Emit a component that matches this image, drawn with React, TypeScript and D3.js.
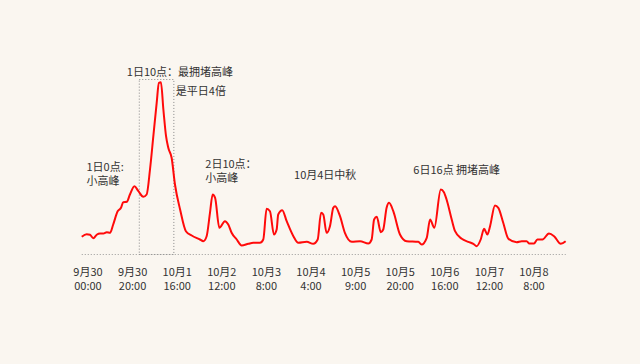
import React, { useEffect, useRef } from "react";
import * as d3 from "d3";

// hours since 9/30 00:00
const hours = [
  -2.8, -0.6, 0.9, 2.4, 3.9, 5.4, 6.9, 8.4, 9.9, 11.3, 13.3, 14.8, 15.8, 17.4, 18.8, 20.8, 22.6, 24.8, 26.3,
  27.8, 29.3, 30.8, 31.8, 32.7, 33.8, 35, 36, 37.5, 39, 41.3, 43.9, 46.5, 50.2, 51.7, 53.2, 54.7, 55.9, 57,
  58.9, 61.4, 62.9, 64.4, 66.7, 68.9, 71.9, 74.1, 77.1, 78.6, 80.1, 81.6, 83.4, 84.6, 85.3, 87.1, 89.1, 92.1,
  94.3, 98.1, 101, 103, 104.5, 105.5, 107, 108.5, 110, 110.8, 113, 115.2, 118.3, 122, 125.7, 127.2, 128.3,
  129.5, 131.3, 132.4, 133.9, 135, 136.9, 139.9, 142.9, 148.1, 149.6, 151.9, 153.4, 155.3, 158.2, 159.6,
  160.8, 163.1, 164.6, 167.6, 170.5, 172.8, 174.3, 176.1, 177.6, 179.1, 180.3, 182.5, 184, 186.2, 188.5,
  192.2, 194.5, 196.7, 197.9, 200, 201.5, 203.8, 206.7, 209, 212, 214.2,
];
// congestion index (relative)
const values = [
  17.7, 20.3, 19.7, 16.3, 19.7, 21, 21, 22.3, 21.7, 30, 43.3, 46.7, 52.3, 52.7, 60, 68.3, 63.3, 57.7, 60,
  85, 118.3, 151.7, 171.7, 172.3, 145, 118.3, 106.7, 96.7, 70, 45, 23.3, 19, 15, 13.3, 18.3, 41.7, 60, 56.7,
  26.7, 33.3, 30, 21.7, 15, 9, 10.7, 11.7, 11.7, 15, 45.7, 43.3, 20, 25, 40, 44.3, 33.3, 18.3,
  11.7, 12.7, 10.7, 15, 41.7, 40, 21.7, 28.3, 46.7, 48.3, 38.3, 21.7, 12.7, 13.3, 11, 15, 35,
  37.7, 22.3, 25, 46.7, 51.7, 43.3, 20, 13.3, 12.7, 10, 16.7, 35, 26.7, 65, 62.3,
  55, 35, 23.3, 15.7, 12.7, 10.7, 8.3, 15, 25.7, 20, 28.3, 49, 46.7, 31.7, 15.7,
  12.3, 13.3, 13.3, 11, 11, 15, 15, 21, 18.3, 10.7, 13.3,
];

const tickHours = [0, 20, 40, 60, 80, 100, 120, 140, 160, 180, 200];
const tickDays = ["9月30", "9月30", "10月1", "10月2", "10月3", "10月4", "10月5", "10月5", "10月6", "10月7", "10月8"];
const tickTimes = ["00:00", "20:00", "16:00", "12:00", "8:00", "4:00", "9:00", "20:00", "16:00", "12:00", "8:00"];

const peakBox = [23, 38.5];

const notes = [
  { h: -0.7, v: 83.5, lines: ["1日0点:", "小高峰"] },
  { h: 17.4, v: 178.5, lines: ["1日10点：最拥堵高峰"] },
  { h: 39.4, v: 159.5, lines: ["是平日4倍"] },
  { h: 52.6, v: 87, lines: ["2日10点：", "小高峰"] },
  { h: 92.4, v: 75.5, lines: ["10月4日中秋"] },
  { h: 145.9, v: 81, lines: ["6日16点 拥堵高峰"] },
];

export default function App() {
  const svgRef = useRef<SVGSVGElement>(null);

  useEffect(() => {
    document.body.style.margin = "0";
    const width = 640;
    const height = 364;
    const svg = d3.select(svgRef.current);
    svg.selectAll("*").remove();
    svg.attr("width", width).attr("height", height).style("display", "block");

    const font = "'Noto Sans CJK SC', 'Noto Sans', sans-serif";
    const ink = "#333";

    svg.append("rect").attr("width", width).attr("height", height).attr("fill", "#faf6f0");

    const x = d3.scaleLinear().domain([0, 200]).range([88, 534]);
    const y = d3.scaleLinear().domain([0, 180]).range([254.5, 74.5]);

    // baseline
    svg
      .append("line")
      .attr("x1", x(-2.8))
      .attr("x2", x(214.2))
      .attr("y1", y(0))
      .attr("y2", y(0))
      .attr("stroke", "#999")
      .attr("stroke-width", 1)
      .attr("stroke-dasharray", "1,2");

    // peak box
    svg
      .append("rect")
      .attr("x", x(peakBox[0]))
      .attr("y", y(175))
      .attr("width", x(peakBox[1]) - x(peakBox[0]))
      .attr("height", y(0) - y(175))
      .attr("fill", "none")
      .attr("stroke", "#888")
      .attr("stroke-width", 1)
      .attr("stroke-dasharray", "1,2");

    const pts: [number, number][] = hours.map((h, i) => [h, values[i]]);
    const line = d3
      .line<[number, number]>()
      .x((d) => x(d[0]))
      .y((d) => y(d[1]))
      .curve(d3.curveMonotoneX);

    svg
      .append("path")
      .datum(pts)
      .attr("d", line)
      .attr("fill", "none")
      .attr("stroke", "#ff0a0a")
      .attr("stroke-width", 2)
      .attr("stroke-linejoin", "round");

    // tick labels
    const ticks = svg.append("g").attr("font-family", font).attr("font-size", 11).attr("fill", ink);
    tickHours.forEach((h, i) => {
      ticks.append("text").attr("text-anchor", "middle").attr("x", x(h)).attr("y", 275.5).text(tickDays[i]);
      ticks.append("text").attr("text-anchor", "middle").attr("x", x(h)).attr("y", 289.5).text(tickTimes[i]);
    });

    // annotations
    const ann = svg.append("g").attr("font-family", font).attr("font-size", 11).attr("fill", ink);
    notes.forEach((n) => {
      n.lines.forEach((s, j) => {
        ann
          .append("text")
          .attr("x", x(n.h))
          .attr("y", y(n.v) + j * 14)
          .text(s);
      });
    });
  }, []);

  return <svg ref={svgRef}></svg>;
}
